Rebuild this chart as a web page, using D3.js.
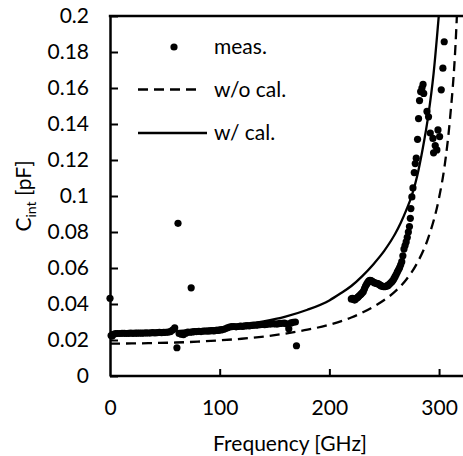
<!DOCTYPE html>
<html>
<head>
<meta charset="utf-8">
<script src="https://cdn.jsdelivr.net/npm/d3@7"></script>
<style>
  html, body { margin: 0; padding: 0; background: #fff; }
  svg { display: block; font-family: Lato, "Open Sans", sans-serif; }
</style>
</head>
<body>
<div id="chart"></div>
<script>
// Cint vs frequency — measured points plus two model curves (w/o and w/ calibration)

// measured points: frequency [GHz] and Cint [pF]
const measFreq = [
  0, 1, 2, 3, 5, 7, 9, 11, 13, 15, 17, 19, 21, 23, 25, 27, 29, 31, 33, 35, 37, 39, 41, 43, 45, 47, 49,
  51, 53, 55, 57, 59, 61, 62, 63, 65, 67, 69, 71, 74, 73, 75, 77, 79, 81, 83, 85, 87, 89, 91, 93, 95, 97, 99,
  101, 103, 105, 107, 109, 111, 113, 115, 117, 119, 121, 123, 125, 127, 129, 131, 133, 135, 137, 139,
  141, 143, 145, 147, 149, 151, 153, 155, 157, 159, 161, 163, 165, 167, 169, 170,
  220, 221, 222, 223, 224, 225, 226, 227, 228, 229, 230, 231, 232, 233, 234, 235, 236, 237, 238, 239,
  240, 241, 242, 243, 244, 245, 246, 247, 248, 249, 250, 251, 252, 253, 254, 255, 256, 257, 258, 259,
  260, 261, 262, 263, 264, 265, 266, 267, 268, 269, 270, 271, 272, 273, 273.8, 274.3, 275.2, 276.2,
  277.4, 278.3, 279.2, 280.4, 281.3, 282.2, 283.2, 284.4, 285.4, 286, 289, 290.4, 292, 294.4, 295,
  296.5, 298, 299, 300.5, 302, 303.5, 304.7
];
const measC = [
  0.0432, 0.0225, 0.0222, 0.0232, 0.0235, 0.0236, 0.0236, 0.0237, 0.0237, 0.0236, 0.0237, 0.0238, 0.0237,
  0.0238, 0.0238, 0.0239, 0.0238, 0.0239, 0.0240, 0.0239, 0.0240, 0.0241, 0.0240, 0.0241, 0.0242, 0.0241,
  0.0242, 0.0243, 0.0244, 0.0246, 0.0255, 0.0268, 0.0157, 0.0848, 0.0236, 0.0232, 0.0230, 0.0238, 0.0244,
  0.0490, 0.0243, 0.0245, 0.0246, 0.0247, 0.0248, 0.0247, 0.0249, 0.0250, 0.0249, 0.0251, 0.0252, 0.0251,
  0.0253, 0.0254, 0.0256, 0.0258, 0.0262, 0.0268, 0.0272, 0.0274, 0.0275, 0.0273, 0.0275, 0.0277, 0.0276,
  0.0278, 0.0280, 0.0279, 0.0281, 0.0283, 0.0282, 0.0284, 0.0285, 0.0286, 0.0285, 0.0287, 0.0289, 0.0290,
  0.0291, 0.0289, 0.0290, 0.0292, 0.0293, 0.0294, 0.0290, 0.0262, 0.0295, 0.0298, 0.0300, 0.0168,
  0.0428, 0.0432, 0.0425, 0.0422, 0.0428, 0.0433, 0.0438, 0.0444, 0.0450, 0.0456, 0.0462, 0.0470, 0.0485,
  0.0500, 0.0510, 0.0520, 0.0528, 0.0532, 0.0530, 0.0526, 0.0522, 0.0518, 0.0516, 0.0515, 0.0513, 0.0510,
  0.0506, 0.0502, 0.0499, 0.0497, 0.0496, 0.0497, 0.0499, 0.0502, 0.0506, 0.0512, 0.0518, 0.0524, 0.0532,
  0.0542, 0.0553, 0.0565, 0.0578, 0.0590, 0.0602, 0.0618, 0.0635, 0.0668, 0.0705, 0.0725, 0.0745, 0.0770,
  0.0800, 0.0830, 0.0876, 0.0930, 0.0995, 0.1045, 0.1130, 0.1180, 0.1210, 0.1315, 0.1430, 0.1530, 0.1580,
  0.1600, 0.1620, 0.1570, 0.1470, 0.1440, 0.1350, 0.1320, 0.1240, 0.1280, 0.1256, 0.1367, 0.1330, 0.1590,
  0.1710, 0.1857
];

// model curves
const curveFreq = [0, 20, 40, 60, 80, 100, 120, 140, 160, 180, 200, 210, 220, 230, 240, 250, 260, 265, 270, 275, 280, 285, 290, 295, 300];
const cWithCal  = [0.0240, 0.0241, 0.0244, 0.0249, 0.0257, 0.0268, 0.0283, 0.0303, 0.0330, 0.0368, 0.0420,
  0.0458, 0.0500, 0.0555, 0.0620, 0.0695, 0.0790, 0.0850, 0.0920, 0.1000, 0.1110, 0.1260, 0.1440, 0.1680, 0.2020];
const curveFreq2 = [0, 20, 40, 60, 80, 100, 120, 140, 160, 180, 200, 220, 240, 250, 260, 270, 280, 290, 300, 305, 310, 315, 320];
const cWithoutCal = [0.0180, 0.0181, 0.0183, 0.0186, 0.0191, 0.0198, 0.0207, 0.0219, 0.0236, 0.0257, 0.0285,
  0.0325, 0.0384, 0.0422, 0.0470, 0.0535, 0.0627, 0.0765, 0.0990, 0.1165, 0.1430, 0.1840, 0.2600];

const xTicks = [0, 100, 200, 300];
const yTicks = [0, 0.02, 0.04, 0.06, 0.08, 0.1, 0.12, 0.14, 0.16, 0.18, 0.2];

const legendItems = [
  { label: 'meas.', kind: 'dot' },
  { label: 'w/o cal.', kind: 'dash' },
  { label: 'w/ cal.', kind: 'solid' },
];

const W = 463, H = 456;
const FS = 21;

const svg = d3.select('#chart').append('svg')
  .attr('width', W).attr('height', H);

const x = d3.scaleLinear().domain([0, 320]).range([110, 461]);
const y = d3.scaleLinear().domain([0, 0.2]).range([376, 16]);

svg.append('clipPath').attr('id', 'plot-clip')
  .append('rect').attr('x', 110).attr('y', 16).attr('width', W - 110).attr('height', 360);

/* ── data ── */
const pts = measFreq.map((f, i) => [f, measC[i]]);
svg.append('g').selectAll('circle').data(pts).join('circle')
  .attr('cx', d => x(d[0])).attr('cy', d => y(d[1]))
  .attr('r', 3.6).attr('fill', '#000');

const line = d3.line().x(d => x(d[0])).y(d => y(d[1])).curve(d3.curveMonotoneX);
const gLines = svg.append('g').attr('clip-path', 'url(#plot-clip)');
gLines.append('path')
  .attr('d', line(curveFreq2.map((f, i) => [f, cWithoutCal[i]])))
  .attr('fill', 'none').attr('stroke', '#000').attr('stroke-width', 2.3)
  .attr('stroke-dasharray', '10,6');
gLines.append('path')
  .attr('d', line(curveFreq.map((f, i) => [f, cWithCal[i]])))
  .attr('fill', 'none').attr('stroke', '#000').attr('stroke-width', 2.3);

/* ── axes ── */
const yAxis = svg.append('g')
  .attr('transform', `translate(${x(0)},0)`)
  .call(d3.axisLeft(y).tickValues(yTicks).tickSizeInner(-8).tickSizeOuter(0).tickPadding(21)
    .tickFormat(d => String(+d.toFixed(2))));
const xAxis = svg.append('g')
  .attr('transform', `translate(0,${y(0)})`)
  .call(d3.axisBottom(x).tickValues(xTicks).tickSizeInner(-7).tickSizeOuter(0).tickPadding(24));

[yAxis, xAxis].forEach(g => {
  g.select('.domain').attr('stroke', '#000').attr('stroke-width', 2.5);
  g.selectAll('.tick line').attr('stroke', '#000').attr('stroke-width', 2);
  g.selectAll('.tick text').attr('fill', '#000').attr('font-size', FS)
    .attr('font-family', 'Lato, "Open Sans", sans-serif');
});
xAxis.selectAll('.tick').filter(d => d === 0).select('line').remove();
xAxis.select('.domain').attr('d', `M${x(0)},0H${W}`);

// top border
svg.append('line')
  .attr('x1', x(0) - 1.2).attr('x2', W).attr('y1', y(0.2)).attr('y2', y(0.2))
  .attr('stroke', '#000').attr('stroke-width', 2.5);

/* ── titles ── */
svg.append('text')
  .attr('x', 290).attr('y', 451)
  .attr('text-anchor', 'middle').attr('font-size', FS)
  .text('Frequency [GHz]');

const yt = svg.append('text')
  .attr('transform', 'translate(31,196) rotate(-90)')
  .attr('text-anchor', 'middle').attr('font-size', FS);
yt.append('tspan').text('C');
yt.append('tspan').attr('font-size', 14).attr('dy', 5).text('int');
yt.append('tspan').attr('dy', -5).text(' [pF]');

/* ── legend ── */
const legY = [47, 89.5, 133];
const lg = svg.append('g');
legendItems.forEach((it, i) => {
  const yy = legY[i];
  if (it.kind === 'dot') {
    lg.append('circle').attr('cx', 174).attr('cy', yy).attr('r', 3.6).attr('fill', '#000');
  } else {
    lg.append('line')
      .attr('x1', 138).attr('x2', it.kind === 'dash' ? 200 : 207)
      .attr('y1', yy).attr('y2', yy)
      .attr('stroke', '#000').attr('stroke-width', 2.3)
      .attr('stroke-dasharray', it.kind === 'dash' ? '10,6' : null);
  }
  lg.append('text')
    .attr('x', 214).attr('y', yy + 7)
    .attr('font-size', FS).text(it.label);
});
</script>
</body>
</html>
